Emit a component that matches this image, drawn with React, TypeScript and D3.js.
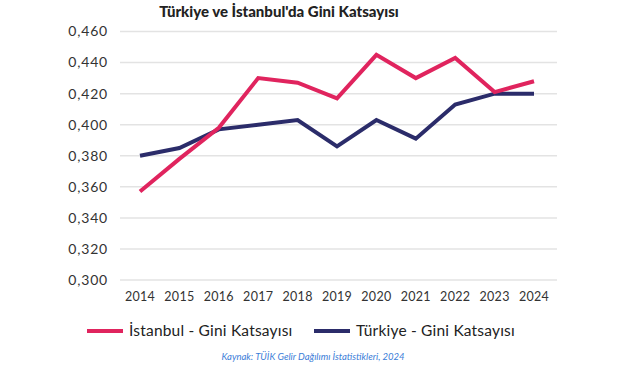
import { useEffect, useRef } from "react";
import * as d3 from "d3";

const YEARS = ["2014", "2015", "2016", "2017", "2018", "2019", "2020", "2021", "2022", "2023", "2024"];
const ISTANBUL = [0.357, 0.378, 0.398, 0.430, 0.427, 0.417, 0.445, 0.430, 0.443, 0.421, 0.428];
const TURKIYE = [0.380, 0.385, 0.397, 0.400, 0.403, 0.386, 0.403, 0.391, 0.413, 0.420, 0.420];
const Y_TICKS = [0.3, 0.32, 0.34, 0.36, 0.38, 0.4, 0.42, 0.44, 0.46];

const PINK = "#e0245e";
const NAVY = "#2b2c6a";
const FONT = "Lato, 'Open Sans', sans-serif";

export default function App() {
  const ref = useRef<SVGSVGElement>(null);

  useEffect(() => {
    if (!ref.current) return;
    const svg = d3.select(ref.current);
    svg.selectAll("*").remove();

    const x = d3.scalePoint().domain(YEARS).range([140, 534]);
    const y = d3.scaleLinear().domain([0.3, 0.46]).range([280, 31.5]);
    const fmt = (v: number) => v.toFixed(3).replace(".", ",");

    // Grid
    svg.append("g")
      .selectAll("line")
      .data(Y_TICKS)
      .join("line")
      .attr("x1", 120).attr("x2", 557)
      .attr("y1", (d) => y(d)).attr("y2", (d) => y(d))
      .attr("stroke", "#e3e3e3").attr("stroke-width", 1.5);

    // Y labels
    svg.append("g")
      .selectAll("text")
      .data(Y_TICKS)
      .join("text")
      .attr("x", 108).attr("y", (d) => y(d))
      .attr("dy", "0.35em")
      .attr("text-anchor", "end")
      .attr("font-family", FONT).attr("font-size", 14)
      .attr("letter-spacing", 0.8)
      .attr("fill", "#333")
      .text(fmt);

    // X labels
    svg.append("g")
      .selectAll("text")
      .data(YEARS)
      .join("text")
      .attr("x", (d) => x(d)!).attr("y", 301)
      .attr("text-anchor", "middle")
      .attr("font-family", FONT).attr("font-size", 12.5)
      .attr("letter-spacing", 0.3)
      .attr("fill", "#333")
      .text((d) => d);

    const line = d3.line<number>()
      .x((_, i) => x(YEARS[i])!)
      .y((d) => y(d));

    svg.append("path").datum(TURKIYE).attr("d", line)
      .attr("fill", "none").attr("stroke", NAVY).attr("stroke-width", 4);
    svg.append("path").datum(ISTANBUL).attr("d", line)
      .attr("fill", "none").attr("stroke", PINK).attr("stroke-width", 4);

    // Title
    svg.append("text")
      .attr("x", 279).attr("y", 17)
      .attr("text-anchor", "middle")
      .attr("font-family", FONT).attr("font-size", 15).attr("font-weight", 900)
      .attr("fill", "#222")
      .text("Türkiye ve İstanbul'da Gini Katsayısı");

    // Legend
    const legend = [
      { label: "İstanbul - Gini Katsayısı", color: PINK, x: 87 },
      { label: "Türkiye - Gini Katsayısı", color: NAVY, x: 314 },
    ];
    const lg = svg.append("g").selectAll("g").data(legend).join("g")
      .attr("transform", (d) => `translate(${d.x},331)`);
    lg.append("line").attr("x1", 0).attr("x2", 36)
      .attr("stroke", (d) => d.color).attr("stroke-width", 4);
    lg.append("text").attr("x", 42).attr("dy", "0.35em")
      .attr("font-family", FONT).attr("font-size", 15.5)
      .attr("letter-spacing", 0.2)
      .attr("fill", "#222")
      .text((d) => d.label);

    // Source
    svg.append("text")
      .attr("x", 313).attr("y", 360)
      .attr("text-anchor", "middle")
      .attr("font-family", FONT).attr("font-size", 9.5).attr("font-style", "italic")
      .attr("fill", "#3b7dd8")
      .text("Kaynak: TÜİK Gelir Dağılımı İstatistikleri, 2024");
  }, []);

  return (
    <svg ref={ref} width={640} height={375}
      style={{ position: "absolute", left: 0, top: 0, background: "#fff" }} />
  );
}
